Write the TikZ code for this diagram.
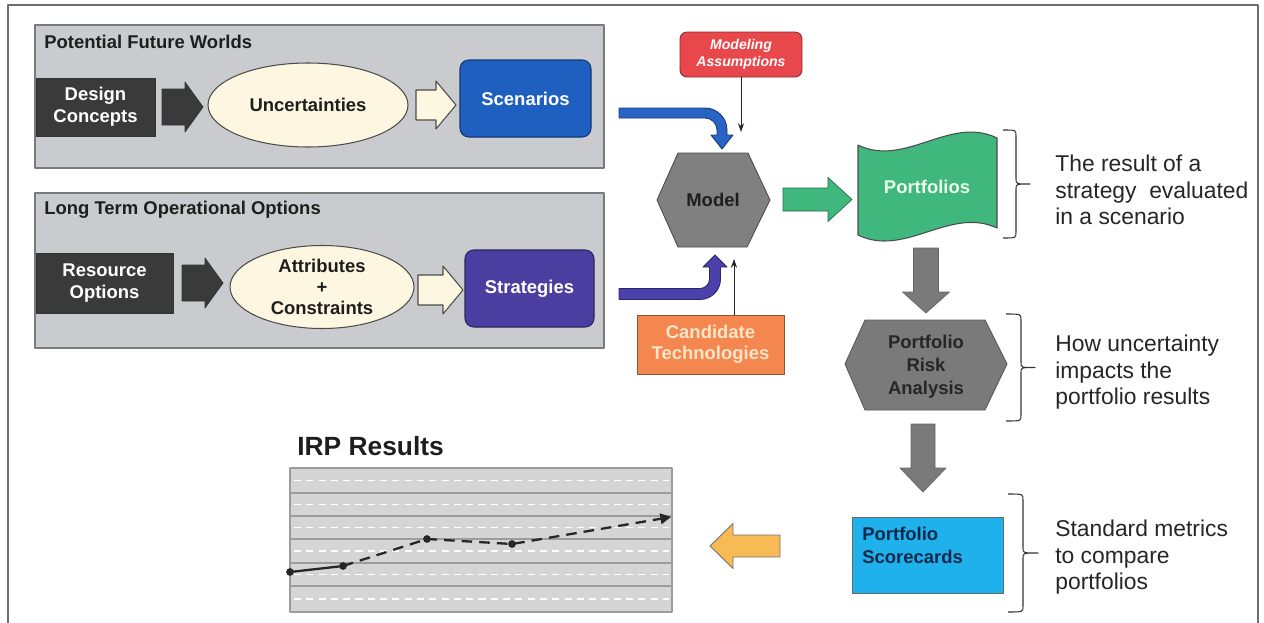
\documentclass[tikz,border=0pt]{standalone}
\usepackage{fontspec}
\setmainfont{Liberation Sans}
\usetikzlibrary{arrows.meta,calc,fit,shapes.geometric}
\definecolor{panelgray}{HTML}{C9CBCE}
\definecolor{panelborder}{HTML}{7A7A7A}
\definecolor{darkbox}{HTML}{3A3A3A}
\definecolor{cream}{HTML}{FDF7E2}
\definecolor{scenblue}{HTML}{1F5FC0}
\definecolor{stratpurple}{HTML}{4A3FA0}
\definecolor{arrowblue}{HTML}{2A63C6}
\definecolor{arrowpurple}{HTML}{4C41AA}
\definecolor{assumred}{HTML}{E8484C}
\definecolor{candorange}{HTML}{F4874F}
\definecolor{candtext}{HTML}{FDE6C8}
\definecolor{modelgray}{HTML}{808080}
\definecolor{portgreen}{HTML}{40B77C}
\definecolor{riskgray}{HTML}{7A7A7A}
\definecolor{scoreblue}{HTML}{1EB1EC}
\definecolor{scoretext}{HTML}{12284A}
\definecolor{resorange}{HTML}{F7BA55}
\definecolor{chartbg}{HTML}{D5D5D5}
\definecolor{chartline}{HTML}{9C9C9C}
\definecolor{framegray}{HTML}{6E6E6E}
\definecolor{txtdark}{HTML}{1E1E1E}
\newcommand\rblock[7]{\path[#7] (#1,#3-#4) -- (#2-#6,#3-#4) -- (#2-#6,#3-#5) -- (#2,#3) -- (#2-#6,#3+#5) -- (#2-#6,#3+#4) -- (#1,#3+#4) -- cycle;}
\newcommand\lblock[7]{\path[#7] (#1,#3-#4) -- (#2+#6,#3-#4) -- (#2+#6,#3-#5) -- (#2,#3) -- (#2+#6,#3+#5) -- (#2+#6,#3+#4) -- (#1,#3+#4) -- cycle;}
\newcommand\dblock[7]{\path[#7] (#1-#4,#2) -- (#1-#4,#3-#6) -- (#1-#5,#3-#6) -- (#1,#3) -- (#1+#5,#3-#6) -- (#1+#4,#3-#6) -- (#1+#4,#2) -- cycle;}
\newcommand\mybrace[5]{\draw[bracestyle] (#1,#4) .. controls (#2,#4) .. (#2,#4+6) -- (#2,{(#4+#5)/2-5}) .. controls (#2,{(#4+#5)/2}) .. (#3,{(#4+#5)/2}) .. controls (#2,{(#4+#5)/2}) .. (#2,{(#4+#5)/2+5}) -- (#2,#5-6) .. controls (#2,#5) .. (#1,#5);}
\tikzset{
  panel/.style={fill=panelgray, draw=panelborder, line width=0.6pt},
  lbl/.style={font=\fontsize{10.5}{12.5}\selectfont\bfseries, align=center, inner sep=0pt},
  ttl/.style={font=\fontsize{10.5}{12.5}\selectfont\bfseries, text=txtdark, anchor=west, inner sep=0pt},
  darkrect/.style={fill=darkbox, draw=black!80, line width=0.5pt, inner sep=0pt},
  ellbox/.style={ellipse, fill=cream, draw=black!70, line width=0.6pt, inner sep=0pt, lbl, text=txtdark},
  roundbox/.style={rounded corners=5pt, line width=0.6pt, inner sep=0pt},
  darkarrow/.style={fill=darkbox, draw=black!80, line width=0.4pt},
  creamarrow/.style={fill=cream, draw=black!70, line width=0.6pt},
  grayarrow/.style={fill=riskgray, draw=black!60, line width=0.4pt},
  thinarrow/.style={line width=0.5pt, draw=black!85, -{Stealth[length=5pt,width=3.5pt]}},
  bracestyle/.style={line width=0.6pt, draw=black!80},
  note/.style={font=\fontsize{13}{15}\selectfont, text=black!85, align=left, anchor=north west, inner sep=0pt},
}
\begin{document}
\begin{tikzpicture}[x=0.02cm,y=-0.02cm, line join=round]
\useasboundingbox (0,0) rectangle (1264,622);
\fill[white] (0,0) rectangle (1264,622);
% outer frame
\draw[framegray, line width=1.2pt] (8,640) -- (8,5) -- (1258,5) -- (1258,640);

% ---------- panel 1
\path[panel] (35,25) rectangle (604,168);
\node[ttl] (t1) at (44,42) {Potential Future Worlds};
\node[darkrect, fit={(36,78) (155,136)}] (design) {};
\node[lbl, text=white] at (design.center) {Design\\Concepts};
\rblock{162}{203}{107}{18}{25}{18}{darkarrow}
\node[ellbox, minimum width=200*0.02cm, minimum height=84*0.02cm] (unc) at (308,105) {Uncertainties};
\rblock{416}{456}{105}{15}{24}{20}{creamarrow}
\node[roundbox, fill=scenblue, draw=scenblue!60!black, fit={(460,60) (591,137)}] (scen) {};
\node[lbl, text=white] at (scen.center) {Scenarios};

% ---------- panel 2
\path[panel] (35,193) rectangle (604,348);
\node[ttl] (t2) at (44,210) {Long Term Operational Options};
\node[darkrect, fit={(36,253) (173,313)}] (res) {};
\node[lbl, text=white] at (res.center) {Resource\\Options};
\rblock{182}{223}{283}{18}{25}{18}{darkarrow}
\node[ellbox, minimum width=184*0.02cm, minimum height=83*0.02cm, font=\fontsize{10.5}{12}\selectfont\bfseries] (attr) at (322,287) {Attributes\\+\\Constraints};
\rblock{418}{463}{290}{15}{24}{20}{creamarrow}
\node[roundbox, fill=stratpurple, draw=stratpurple!60!black, fit={(465,250) (594,327)}] (strat) {};
\node[lbl, text=white] at (strat.center) {Strategies};

% ---------- model and inputs
\node[fill=assumred, draw=assumred!60!black, rounded corners=4pt, line width=0.5pt, inner sep=0pt, fit={(680,32) (802,77)}] (assum) {};
\node[inner sep=0pt, font=\fontsize{8}{9.6}\selectfont\bfseries\itshape, text=white, align=center] at (assum.center) {Modeling\\Assumptions};
\path[fill=modelgray, draw=black!70, line width=0.5pt] (657,200) -- (678,153) -- (748,153) -- (770,200) -- (747,247) -- (678,247) -- cycle;
\node[lbl, text=txtdark] (model) at (713,200) {Model};
\node[fill=candorange, draw=candorange!60!black, line width=0.5pt, inner sep=0pt, fit={(637,315) (784,374)}] (cand) {};
\node[lbl, font=\fontsize{10.5}{12}\selectfont\bfseries, text=candtext] at (cand.center) {Candidate\\Technologies};

\coordinate (assumend) at (741,132);
\draw[thinarrow] (assum.south -| assumend) -- (assumend);
\coordinate (candend) at (734,259);
\draw[thinarrow] (cand.north -| candend) -- (candend);

% bent arrows
\path[fill=arrowblue, draw=arrowblue!60!black, line width=0.5pt] (619,108) -- (705,108) .. controls (717.1,108) and (727,117.9) .. (727,130) -- (727,135) -- (733,135) -- (722,149) -- (711,135) -- (717,135) -- (717,130) .. controls (717,123.4) and (711.6,118) .. (705,118) -- (619,118) -- cycle;
\path[fill=arrowpurple, draw=arrowpurple!60!black, line width=0.5pt] (619,288.5) -- (700,288.5) .. controls (705.2,288.5) and (709.5,284.2) .. (709.5,279) -- (709.5,267) -- (703,267) -- (715,255) -- (727,267) -- (720.5,267) -- (720.5,279) .. controls (720.5,290.3) and (711.3,299.5) .. (700,299.5) -- (619,299.5) -- cycle;

% green arrow and portfolios
\rblock{783}{852}{199.5}{11.5}{22}{24}{fill=portgreen, draw=portgreen!60!black, line width=0.4pt}
\path[fill=portgreen, draw=black!70, line width=0.6pt] (858,145) .. controls (905,168) and (950,115) .. (997,138) -- (997,228) .. controls (950,206) and (905,258) .. (858,235) -- cycle;
\node[lbl, text=white!92!green] (port) at (927,187) {Portfolios};

% risk analysis
\dblock{926}{248}{313}{12.5}{23.5}{21}{grayarrow}
\path[fill=riskgray, draw=black!65, line width=0.5pt] (845,364) -- (865,320) -- (985,320) -- (1007,364) -- (985,410) -- (865,410) -- cycle;
\node[lbl, font=\fontsize{10.5}{13}\selectfont\bfseries, text=black!85] (risk) at (926,367) {Portfolio\\Risk\\Analysis};
\dblock{923}{424}{492}{12}{23}{24}{grayarrow}

% scorecards
\path[fill=scoreblue, draw=black!60, line width=0.5pt] (852,517) rectangle (1003,593);
\node[font=\fontsize{10.5}{13}\selectfont\bfseries, text=scoretext, align=left, anchor=north west, inner sep=0pt] (score) at (862,527) {Portfolio\\Scorecards};

% orange arrow
\lblock{780}{710}{546}{11}{22.5}{23}{fill=resorange, draw=black!55, line width=0.5pt}

% braces and notes
\mybrace{1003}{1016}{1030}{130}{238}
\node[note] (n1) at (1055,155) {The result of a\\strategy\ \ evaluated\\in a scenario};
\mybrace{1006}{1021}{1035}{314}{421}
\node[note] (n2) at (1055,335) {How uncertainty\\impacts the\\portfolio results};
\mybrace{1008}{1023}{1038}{494}{612}
\node[note] (n3) at (1055,520) {Standard metrics\\to compare\\portfolios};

% IRP results chart
\node[anchor=base west, inner sep=0pt, font=\fontsize{15}{18}\selectfont\bfseries, text=txtdark] (irp) at (297,455) {IRP Results};
\path[fill=chartbg, draw=chartline, line width=0.6pt] (290,468) rectangle (672,612);
\foreach \yy in {493,516,539,563,586} \draw[chartline, line width=0.6pt] (290,\yy) -- (672,\yy);
\foreach \yy in {480.5,504.5,527.5,551,574.5,599} \draw[white, line width=0.8pt, dash pattern=on 4pt off 3pt] (294,\yy) -- (669,\yy);
\coordinate (p1) at (290,572);
\coordinate (p2) at (343,566);
\coordinate (p3) at (427,539);
\coordinate (p4) at (512,544);
\coordinate (pe) at (671,517);
\draw[line width=1.3pt, black!85] (p1) -- (p2);
\draw[line width=1.3pt, black!85, dash pattern=on 6pt off 4pt, -{Triangle[length=6pt,width=6pt]}] (p2) -- (p3) -- (p4) -- (pe);
\foreach \p in {p1,p2,p3,p4} \fill[black!85] (\p) circle (2.2pt);
\end{tikzpicture}
\end{document}
